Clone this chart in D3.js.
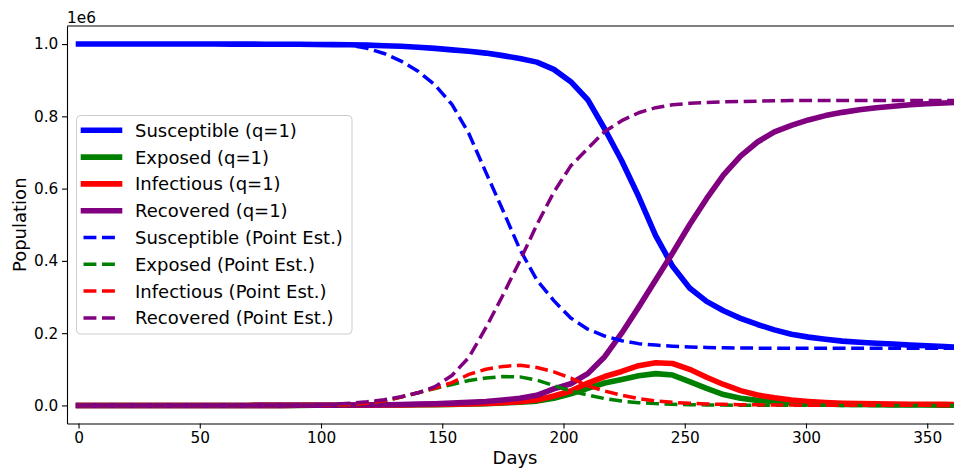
<!DOCTYPE html>
<html>
<head>
<meta charset="utf-8">
<script src="https://cdn.jsdelivr.net/npm/d3@7"></script>
<style>
  html, body { margin: 0; padding: 0; background: #ffffff; }
  svg { display: block; font-family: "DejaVu Sans", sans-serif; }
</style>
</head>
<body>
<svg id="chart" width="954" height="472"></svg>
<script>
// Simulation output sampled weekly (population counts).
const days = [0, 7, 14, 21, 28, 35, 42, 49, 56, 63, 70, 77, 84, 91, 98, 105, 112, 119, 126, 133,
  140, 147, 154, 161, 168, 175, 182, 189, 196, 203, 210, 217, 224, 231, 238, 245, 252, 259, 266, 273,
  280, 287, 294, 301, 308, 315, 322, 329, 336, 343, 350, 357, 364];

// SEIR with q = 1
const susceptibleQ = [1000000, 1000000, 1000000, 1000000, 1000000, 1000000, 1000000, 1000000, 1000000, 999900,
  999800, 999700, 999500, 999300, 999000, 998500, 998000, 997000, 995500, 994000,
  991000, 988000, 984000, 980000, 975000, 968000, 960000, 950000, 930000, 896000,
  846000, 765000, 677000, 578000, 470000, 385000, 325000, 288000, 262000, 241000,
  224000, 209000, 197000, 189000, 183000, 178000, 175000, 172000, 170000, 167000,
  165000, 163000, 161000];
const exposedQ = [0, 0, 0, 0, 0, 0, 0, 0, 0, 0,
  0, 100, 150, 200, 300, 400, 600, 800, 1000, 1300,
  1700, 2200, 2900, 3800, 5000, 6600, 8700, 12000, 20000, 32000,
  47000, 62000, 72000, 82000, 88000, 84000, 66000, 47000, 30000, 20000,
  14000, 10000, 7000, 5000, 4000, 3000, 2500, 2000, 1600, 1300,
  1100, 900, 800];
const infectiousQ = [0, 0, 0, 0, 0, 0, 0, 0, 0, 0,
  0, 100, 200, 300, 400, 500, 700, 900, 1200, 1500,
  2000, 2600, 3400, 4400, 5800, 7600, 10000, 15000, 26000, 40000,
  62000, 80000, 94000, 110000, 118000, 116000, 100000, 78000, 58000, 41000,
  29000, 21000, 15000, 11000, 8000, 6000, 5000, 4300, 3800, 3400,
  3100, 2900, 2700];
const recoveredQ = [0, 0, 0, 0, 0, 0, 0, 0, 0, 0,
  0, 100, 200, 300, 500, 700, 1000, 1400, 1900, 2600,
  3500, 4700, 6300, 8400, 11000, 15000, 20000, 28000, 46000, 60000,
  88000, 135000, 200000, 272000, 347000, 422000, 500000, 572000, 638000, 690000,
  729000, 757000, 775000, 790000, 802000, 811000, 818000, 824000, 828000, 832000,
  835000, 837000, 839000];

// SEIR with the point estimate
const susceptibleP = [1000000, 1000000, 1000000, 1000000, 1000000, 1000000, 1000000, 1000000, 1000000, 1000000,
  1000000, 1000000, 1000000, 1000000, 999500, 999000, 997000, 988000, 974000, 953000,
  925000, 887000, 833000, 752000, 645000, 540000, 432000, 347000, 290000, 242000,
  211000, 192000, 179000, 171000, 167000, 164000, 162000, 160500, 159500, 159000,
  158500, 158300, 158000, 158000, 158000, 158000, 158000, 158000, 158000, 158000,
  158000, 158000, 158000];
const exposedP = [0, 0, 0, 0, 0, 0, 0, 0, 0, 0,
  0, 0, 0, 0, 500, 1200, 2500, 6000, 13000, 23000,
  35000, 47000, 58000, 69000, 76000, 80000, 79000, 70000, 55000, 40000,
  29000, 19000, 12000, 7500, 5000, 3200, 2200, 1500, 1000, 700,
  500, 400, 300, 200, 200, 100, 100, 100, 100, 100,
  100, 100, 100];
const infectiousP = [0, 0, 0, 0, 0, 0, 0, 0, 0, 0,
  0, 0, 0, 0, 500, 1200, 2500, 6000, 13000, 23000,
  35000, 48000, 63000, 86000, 100000, 108000, 111000, 105000, 93000, 76000,
  54000, 40000, 28000, 19000, 12500, 8500, 6000, 4200, 3000, 2200,
  1600, 1200, 900, 700, 500, 400, 300, 300, 200, 200,
  200, 100, 100];
const recoveredP = [0, 0, 0, 0, 0, 0, 0, 0, 0, 0,
  0, 0, 0, 0, 1000, 3000, 6000, 10000, 16000, 24000,
  35000, 52000, 83000, 133000, 215000, 305000, 400000, 500000, 590000, 663000,
  711000, 758000, 788000, 810000, 824000, 832000, 836000, 838000, 840000, 841000,
  842000, 843000, 844000, 844000, 844000, 844000, 844000, 844000, 844000, 844000,
  844000, 844000, 844000];

const xTicks = [0, 50, 100, 150, 200, 250, 300, 350];
const yTicks = [0, 200000, 400000, 600000, 800000, 1000000];

const seriesList = [
  { label: "Susceptible (q=1)", values: susceptibleQ, color: "#0000ff", dashed: false },
  { label: "Exposed (q=1)", values: exposedQ, color: "#008000", dashed: false },
  { label: "Infectious (q=1)", values: infectiousQ, color: "#ff0000", dashed: false },
  { label: "Recovered (q=1)", values: recoveredQ, color: "#800080", dashed: false },
  { label: "Susceptible (Point Est.)", values: susceptibleP, color: "#0000ff", dashed: true },
  { label: "Exposed (Point Est.)", values: exposedP, color: "#008000", dashed: true },
  { label: "Infectious (Point Est.)", values: infectiousP, color: "#ff0000", dashed: true },
  { label: "Recovered (Point Est.)", values: recoveredP, color: "#800080", dashed: true }
];

const svg = d3.select("#chart");
const plot = { left: 67, right: 963, top: 26, bottom: 423.5 };

const x = d3.scaleLinear().domain([-4.75, 364.75]).range([plot.left, plot.right]);
const y = d3.scaleLinear().domain([-50000, 1050000]).range([plot.bottom, plot.top]);

const solidWidth = 5.6, dashWidth = 3.5;
const dashPattern = "12.9,5.6";

svg.append("defs").append("clipPath").attr("id", "plot-clip")
  .append("rect")
  .attr("x", plot.left).attr("y", plot.top)
  .attr("width", plot.right - plot.left).attr("height", plot.bottom - plot.top);

const line = d3.line().x((d, i) => x(days[i])).y(d => y(d));

const lines = svg.append("g").attr("clip-path", "url(#plot-clip)");
seriesList.forEach(s => {
  lines.append("path")
    .attr("d", line(s.values))
    .attr("fill", "none")
    .attr("stroke", s.color)
    .attr("stroke-width", s.dashed ? dashWidth : solidWidth)
    .attr("stroke-linejoin", "round")
    .attr("stroke-linecap", s.dashed ? "butt" : "square")
    .attr("stroke-dasharray", s.dashed ? dashPattern : null);
});

// Axes
const tickFont = "15.3px";
const xAxis = svg.append("g")
  .attr("transform", `translate(0,${plot.bottom})`)
  .call(d3.axisBottom(x).tickValues(xTicks).tickFormat(d3.format("d"))
    .tickSize(5).tickSizeOuter(0).tickPadding(4));
const yAxis = svg.append("g")
  .attr("transform", `translate(${plot.left},0)`)
  .call(d3.axisLeft(y).tickValues(yTicks).tickFormat(d => (d / 1e6).toFixed(1))
    .tickSize(5).tickSizeOuter(0).tickPadding(3.7));

[xAxis, yAxis].forEach(g => {
  g.selectAll("text").attr("font-size", tickFont).attr("fill", "#000")
    .attr("font-family", "DejaVu Sans, sans-serif");
  g.selectAll("line").attr("stroke", "#000").attr("stroke-width", 1.1);
  g.select(".domain").attr("stroke", "#000").attr("stroke-width", 1.1);
});

// top spine
svg.append("line")
  .attr("x1", plot.left).attr("x2", plot.right)
  .attr("y1", plot.top).attr("y2", plot.top)
  .attr("stroke", "#000").attr("stroke-width", 1.1);

// scale multiplier
svg.append("text")
  .attr("x", plot.left).attr("y", 22.5)
  .attr("font-size", tickFont)
  .text("1e6");

// axis titles
svg.append("text")
  .attr("x", (plot.left + plot.right) / 2).attr("y", 464)
  .attr("text-anchor", "middle")
  .attr("font-size", "18px")
  .text("Days");

svg.append("text")
  .attr("transform", `translate(26,${(plot.top + plot.bottom) / 2}) rotate(-90)`)
  .attr("text-anchor", "middle")
  .attr("font-size", "18px")
  .text("Population");

// Legend
const legend = svg.append("g");
legend.append("rect")
  .attr("x", 76.5).attr("y", 115.5)
  .attr("width", 275.5).attr("height", 218.5)
  .attr("rx", 4).attr("ry", 4)
  .attr("fill", "#ffffff").attr("fill-opacity", 0.8)
  .attr("stroke", "#cccccc").attr("stroke-width", 1);

const rowY0 = 130.3, rowStep = 26.8;
seriesList.forEach((s, i) => {
  const yy = rowY0 + i * rowStep;
  legend.append("line")
    .attr("x1", 83.5).attr("x2", 119.5)
    .attr("y1", yy).attr("y2", yy)
    .attr("stroke", s.color)
    .attr("stroke-width", s.dashed ? dashWidth : solidWidth)
    .attr("stroke-linecap", s.dashed ? "butt" : "square")
    .attr("stroke-dasharray", s.dashed ? dashPattern : null);
  legend.append("text")
    .attr("x", 135).attr("y", yy)
    .attr("dy", "0.36em")
    .attr("font-size", "18px")
    .text(s.label);
});
</script>
</body>
</html>
